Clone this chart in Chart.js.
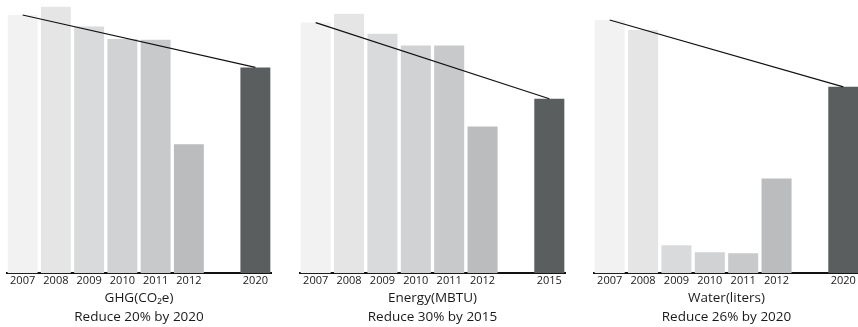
<!DOCTYPE html>
<html>
<head>
<meta charset="utf-8">
<script src="https://cdn.jsdelivr.net/npm/chart.js@4"></script>
<style>
  html, body { margin: 0; padding: 0; background: #fff; overflow: hidden; width: 858px; height: 327px; }
  .panel { position: absolute; top: 0; height: 327px; }
</style>
</head>
<body>
<div class="panel" style="left:6px;width:266px"><canvas id="chartGhg"></canvas></div>
<div class="panel" style="left:299px;width:267px"><canvas id="chartEnergy"></canvas></div>
<div class="panel" style="left:593px;width:267px"><canvas id="chartWater"></canvas></div>
<script>
// values indexed to 2007 = 100 (no y axis in the original)
const ghgYears = ['2007', '2008', '2009', '2010', '2011', '2012', '', '2020'];
const ghgValues = [100, 103.2, 95.5, 90.7, 90.4, 49.9, null, 79.7];
const ghgTarget = [100, null, null, null, null, null, null, 79.7];

const energyYears = ['2007', '2008', '2009', '2010', '2011', '2012', '', '2015'];
const energyValues = [100, 103.5, 95.5, 90.8, 90.8, 58.5, null, 69.6];
const energyTarget = [100, null, null, null, null, null, null, 69.6];

const waterYears = ['2007', '2008', '2009', '2010', '2011', '2012', '', '2020'];
const waterValues = [100, 96.1, 11.0, 8.3, 7.9, 37.4, null, 73.6];
const waterTarget = [100, null, null, null, null, null, null, 73.6];

const barColors = ['#f2f2f2', '#e5e5e5', '#d9dadb', '#d1d2d3', '#c8c9ca', '#bbbcbd', '#ffffff', '#5a5e5f'];

const fontFamily = '"Open Sans", "DejaVu Sans", sans-serif';

function makeChart(id, labels, values, target, yMax, title) {
    return new Chart(document.getElementById(id), {
        data: {
            labels: labels,
            datasets: [{
                type: 'line',
                data: target,
                borderColor: '#111',
                borderWidth: 1.2,
                pointRadius: 0,
                spanGaps: true,
                order: 0
            }, {
                type: 'bar',
                data: values,
                backgroundColor: barColors,
                categoryPercentage: 1,
                barPercentage: 0.9,
                order: 1
            }]
        },
        options: {
            responsive: true,
            maintainAspectRatio: false,
            animation: false,
            layout: { padding: { left: 0, right: 0, top: 0, bottom: 1 } },
            plugins: {
                legend: { display: false },
                tooltip: { enabled: false },
                title: {
                    display: true,
                    position: 'bottom',
                    text: title,
                    color: '#1a1a1a',
                    font: { family: fontFamily, size: 13.5, weight: 'normal', lineHeight: 1.36 },
                    padding: { top: 0, bottom: 0 }
                }
            },
            scales: {
                x: {
                    grid: { display: false, drawTicks: false },
                    border: { display: true, color: '#111', width: 2 },
                    ticks: {
                        color: '#1a1a1a',
                        padding: 2,
                        maxRotation: 0,
                        autoSkip: false,
                        font: { family: fontFamily, size: 11, lineHeight: 1.1 }
                    }
                },
                y: {
                    display: false,
                    min: 0,
                    max: yMax
                }
            }
        }
    });
}

makeChart('chartGhg', ghgYears, ghgValues, ghgTarget, 105.8, ['GHG(CO\u2082e)', 'Reduce 20% by 2020']);
makeChart('chartEnergy', energyYears, energyValues, energyTarget, 109.0, ['Energy(MBTU)', 'Reduce 30% by 2015']);
makeChart('chartWater', waterYears, waterValues, waterTarget, 107.9, ['Water(liters)', 'Reduce 26% by 2020']);
</script>
</body>
</html>
